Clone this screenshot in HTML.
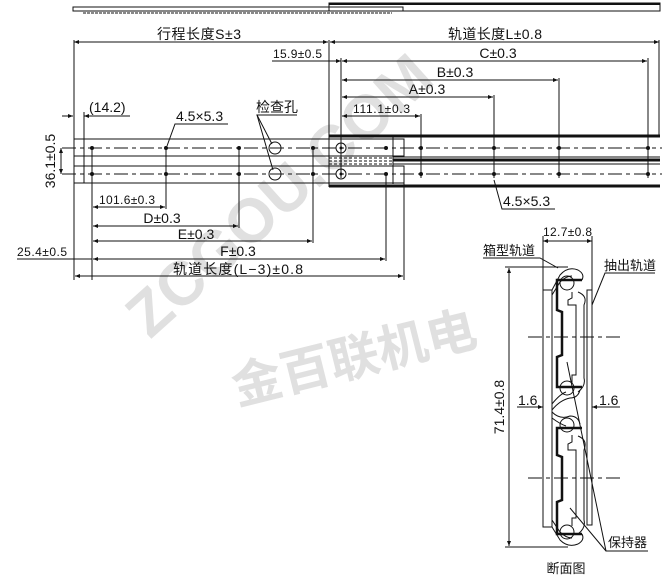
<!DOCTYPE html>
<html><head><meta charset="utf-8"><style>
html,body{margin:0;padding:0;background:#fff;}
svg{display:block;}
text{font-family:"Liberation Sans","Noto Sans CJK SC",sans-serif;fill:#111;}
</style></head><body>
<svg width="667" height="580" viewBox="0 0 667 580" xmlns="http://www.w3.org/2000/svg">
<defs>
<marker id="a" viewBox="0 0 10 10" refX="10" refY="5" markerWidth="7" markerHeight="5" orient="auto-start-reverse"><path d="M0,1 L10,5 L0,9 z" fill="#111"/></marker>
</defs>
<g font-weight="bold">
<text x="0" y="0" font-size="62" transform="translate(150,340) rotate(-42)" style="fill:#e0e0e0;font-family:'Liberation Sans',sans-serif">ZCGOU.COM</text>
<text x="0" y="0" font-size="50" transform="translate(237,405) rotate(-14)" style="fill:#e0e0e0;font-family:'Noto Sans CJK SC',sans-serif">金百联机电</text>
</g>
<g stroke="#111" fill="none" stroke-width="1">
<rect x="73" y="7" width="330" height="4"/>
<line x1="83" y1="13" x2="392" y2="13" stroke-dasharray="3,1"/>
<rect x="329" y="3" width="331" height="8"/>
<line x1="329" y1="4" x2="660" y2="4" stroke-width="2"/>
<line x1="329" y1="7" x2="403" y2="7" stroke-dasharray="3,1"/>
<line x1="74" y1="42" x2="328" y2="42" marker-start="url(#a)" marker-end="url(#a)"/>
<line x1="330" y1="42" x2="659" y2="42" marker-start="url(#a)" marker-end="url(#a)"/>
<line x1="74" y1="40" x2="74" y2="185"/>
<line x1="329" y1="40" x2="329" y2="187"/>
<line x1="659" y1="40" x2="659" y2="137"/>
<line x1="272" y1="61" x2="329" y2="61"/>
<line x1="329" y1="61" x2="341" y2="61" marker-end="url(#a)"/>
<line x1="342" y1="61" x2="647" y2="61" marker-start="url(#a)" marker-end="url(#a)"/>
<line x1="342" y1="80" x2="558" y2="80" marker-start="url(#a)" marker-end="url(#a)"/>
<line x1="342" y1="97" x2="493" y2="97" marker-start="url(#a)" marker-end="url(#a)"/>
<line x1="342" y1="116" x2="420" y2="116" marker-start="url(#a)" marker-end="url(#a)"/>
<line x1="341" y1="58" x2="341" y2="178"/>
<line x1="648" y1="58" x2="648" y2="178"/>
<line x1="559" y1="78" x2="559" y2="178"/>
<line x1="494" y1="95" x2="494" y2="178"/>
<line x1="421" y1="114" x2="421" y2="178"/>
<line x1="62" y1="116" x2="73" y2="116" marker-end="url(#a)"/>
<line x1="84" y1="116" x2="130" y2="116" marker-start="url(#a)"/>
<line x1="84" y1="112" x2="84" y2="183"/>
<rect x="74" y="139" width="330" height="17"/>
<rect x="74" y="166" width="330" height="17"/>
<line x1="393" y1="139" x2="393" y2="183"/>
<rect x="329" y="135" width="64" height="52" stroke-dasharray="3,2"/>
<line x1="329" y1="158" x2="393" y2="158" stroke-dasharray="3,2"/>
<line x1="329" y1="161" x2="393" y2="161" stroke-dasharray="3,2"/>
<line x1="329" y1="164" x2="393" y2="164" stroke-dasharray="3,2"/>
<line x1="329" y1="136" x2="660" y2="136" stroke-width="3"/>
<line x1="329" y1="186" x2="660" y2="186" stroke-width="3"/>
<line x1="393" y1="160" x2="660" y2="160" stroke-width="3"/>
<line x1="393" y1="164" x2="660" y2="164"/>
<line x1="393" y1="157" x2="660" y2="157"/>
<line x1="62" y1="148" x2="662" y2="148" stroke-dasharray="14,4,4,4"/>
<line x1="62" y1="174" x2="662" y2="174" stroke-dasharray="14,4,4,4"/>
<line x1="61" y1="148" x2="61" y2="174" marker-start="url(#a)" marker-end="url(#a)"/>
<ellipse cx="275" cy="148" rx="6" ry="6"/>
<ellipse cx="275" cy="174" rx="6" ry="6"/>
<polyline points="297,115 257,115 272,144"/>
<line x1="257" y1="115" x2="273" y2="170"/>
<circle cx="341" cy="148" r="5"/><circle cx="341" cy="174" r="5"/>
<polyline points="228,124 175,124 167,146"/>
<polyline points="555,209 502,209 494,180"/>
<line x1="92" y1="150" x2="92" y2="280"/>
<line x1="166" y1="150" x2="166" y2="209"/>
<line x1="239" y1="150" x2="239" y2="228"/>
<line x1="313" y1="150" x2="313" y2="243"/>
<line x1="386" y1="176" x2="386" y2="261"/>
<line x1="404" y1="183" x2="404" y2="280"/>
<line x1="74" y1="183" x2="74" y2="280"/>
<line x1="93" y1="207" x2="165" y2="207" marker-start="url(#a)" marker-end="url(#a)"/>
<line x1="93" y1="226" x2="238" y2="226" marker-start="url(#a)" marker-end="url(#a)"/>
<line x1="93" y1="241" x2="312" y2="241" marker-start="url(#a)" marker-end="url(#a)"/>
<line x1="93" y1="259" x2="385" y2="259" marker-start="url(#a)" marker-end="url(#a)"/>
<line x1="75" y1="276" x2="403" y2="276" marker-start="url(#a)" marker-end="url(#a)"/>
<line x1="17" y1="259" x2="92" y2="259"/>
</g>
<g fill="#111">
<circle cx="92" cy="148" r="2"/><circle cx="166" cy="148" r="2"/><circle cx="239" cy="148" r="2"/><circle cx="313" cy="148" r="2"/><circle cx="341" cy="148" r="1.5"/><circle cx="386" cy="148" r="2"/><circle cx="421" cy="148" r="2"/><circle cx="494" cy="148" r="2"/><circle cx="559" cy="148" r="2"/><circle cx="648" cy="148" r="2"/>
<circle cx="92" cy="174" r="2"/><circle cx="166" cy="174" r="2"/><circle cx="239" cy="174" r="2"/><circle cx="313" cy="174" r="2"/><circle cx="341" cy="174" r="1.5"/><circle cx="386" cy="174" r="2"/><circle cx="421" cy="174" r="2"/><circle cx="494" cy="174" r="2"/><circle cx="559" cy="174" r="2"/><circle cx="648" cy="174" r="2"/>
</g>
<g font-size="14">
<text x="199" y="39" text-anchor="middle" textLength="84">行程长度S±3</text>
<text x="495" y="39" text-anchor="middle" textLength="94">轨道长度L±0.8</text>
<text x="273" y="58" font-size="12" textLength="49">15.9±0.5</text>
<text x="498" y="58" text-anchor="middle">C±0.3</text>
<text x="455" y="77" text-anchor="middle">B±0.3</text>
<text x="427" y="94" text-anchor="middle">A±0.3</text>
<text x="353" y="113" font-size="12" textLength="57">111.1±0.3</text>
<text x="89" y="112">(14.2)</text>
<text x="176" y="121">4.5×5.3</text>
<text x="256" y="112">检查孔</text>
<text x="503" y="206">4.5×5.3</text>
<text x="99" y="204" font-size="12" textLength="56">101.6±0.3</text>
<text x="162" y="223" text-anchor="middle">D±0.3</text>
<text x="196" y="239" text-anchor="middle">E±0.3</text>
<text x="238" y="256" text-anchor="middle">F±0.3</text>
<text x="238" y="274" text-anchor="middle" textLength="130">轨道长度(L−3)±0.8</text>
<text x="17" y="256" font-size="12" textLength="50">25.4±0.5</text>
<text transform="translate(55,161) rotate(-90)" text-anchor="middle">36.1±0.5</text>
</g>
<g stroke="#111" fill="none" stroke-width="1">
<line x1="543" y1="241" x2="592" y2="241" marker-start="url(#a)" marker-end="url(#a)"/>
<line x1="543" y1="236" x2="543" y2="290"/>
<line x1="592" y1="236" x2="592" y2="290"/>
<line x1="509" y1="268" x2="509" y2="546" marker-start="url(#a)" marker-end="url(#a)"/>
<line x1="505" y1="267" x2="568" y2="267"/>
<line x1="505" y1="547" x2="568" y2="547"/>
<path d="M543,290 L543,527 L552,527 L552,290 Z"/>
<path d="M552,290 L560,275 Q568,266 578,270 Q585,274 582,280"/>
<path d="M552,295 L560,282 Q566,276 572,276"/>
<path d="M552,527 L560,540 Q568,548 578,544 Q585,540 582,534"/>
<path d="M552,520 L560,532 Q566,538 572,538"/>
<path d="M552,410 Q560,400 570,398 Q578,398 580,390"/>
<path d="M552,404 Q560,394 566,392"/>
<path d="M552,412 Q560,420 570,416 Q578,416 580,424"/>
<path d="M552,418 Q560,424 566,426"/>
<circle cx="567" cy="283" r="7"/><circle cx="567" cy="388" r="7"/><circle cx="567" cy="425" r="7"/><circle cx="567" cy="532" r="7"/>
<path d="M582,280 L557,280 L557,310 L562,312 L562,355 L557,357 L557,387 L582,387" stroke-width="2.5"/>
<path d="M582,428 L557,428 L557,455 L562,457 L562,500 L557,502 L557,534 L582,534" stroke-width="2.5"/>
<path d="M572,292 L572,298 L568,300 L568,305 L576,305 L576,375 L572,375 L572,384 M578,292 Q588,296 584,305 L584,378 Q586,386 578,392"/>
<path d="M572,435 L572,442 L568,444 L568,450 L576,450 L576,518 L572,518 L572,526 M578,436 Q588,440 584,450 L584,520 Q586,528 578,534"/>
<rect x="587" y="290" width="5" height="235"/>
<line x1="528" y1="337" x2="622" y2="337" stroke-dasharray="14,4,4,4"/>
<line x1="528" y1="478" x2="622" y2="478" stroke-dasharray="14,4,4,4"/>
<line x1="517" y1="407" x2="543" y2="407" marker-end="url(#a)"/>
<line x1="620" y1="407" x2="592" y2="407" marker-end="url(#a)"/>
<polyline points="483,258 540,258 558,268"/>
<polyline points="655,273 605,273 592,305"/>
<polyline points="648,551 606,551 567,362"/>
<line x1="606" y1="551" x2="570" y2="508"/>
</g>
<g font-size="13">
<text x="543" y="236" font-size="12" textLength="49">12.7±0.8</text>
<text x="483" y="255">箱型轨道</text>
<text x="604" y="270">抽出轨道</text>
<text x="608" y="547">保持器</text>
<text x="566" y="573" text-anchor="middle">断面图</text>
<text x="518" y="405" font-size="14">1.6</text>
<text x="599" y="405" font-size="14">1.6</text>
<text transform="translate(504,407) rotate(-90)" text-anchor="middle" font-size="14">71.4±0.8</text>
</g>
</svg>
</body></html>
